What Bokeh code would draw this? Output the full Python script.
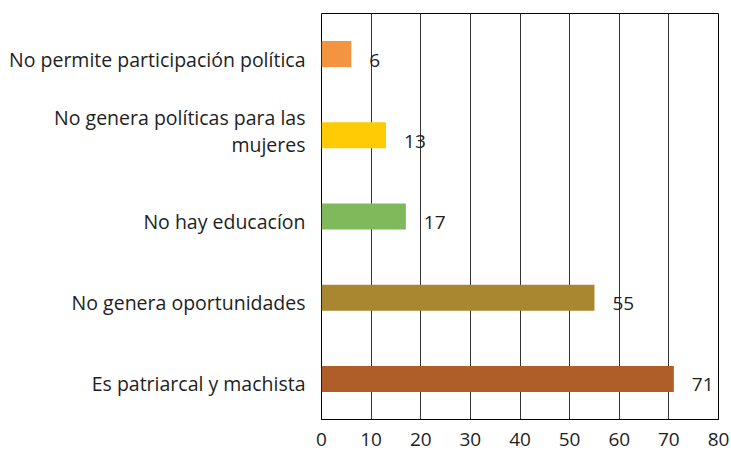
from bokeh.plotting import figure
from bokeh.models import FactorRange, Range1d, FixedTicker, ColumnDataSource
from bokeh.embed import file_html
from bokeh.resources import INLINE
from bokeh.core.properties import value

categories = [
    "No permite participación política",
    "No genera políticas para las\nmujeres",
    "No hay educacíon",
    "No genera oportunidades",
    "Es patriarcal y machista",
]
keys = ["c1", "c2", "c3", "c4", "c5"]
values = [6, 13, 17, 55, 71]
colors = ["#F39440", "#FFCB05", "#80B95C", "#A88730", "#AF5E2A"]
x_ticks = [0, 10, 20, 30, 40, 50, 60, 70, 80]

FONT = "Open Sans"
TXT = "#1e1e1e"

n_lines = [c.count("\n") + 1 for c in categories]
src = ColumnDataSource(dict(key=keys, cat=categories, val=values, col=colors,
                            lab=[str(v) for v in values], zero=[0] * len(values),
                            yoff=[5 if k == 1 else -4 for k in n_lines]))

p = figure(width=731, height=451, output_backend="svg", toolbar_location=None,
           y_range=FactorRange(factors=keys[::-1]), x_range=Range1d(0, 80),
           min_border_left=321, min_border_right=13, min_border_top=13, min_border_bottom=32)

p.hbar(y="key", right="val", left=0, height=0.32, color="col", line_color=None, source=src)

p.text(x="val", y="key", text="lab", source=src, x_offset=18, y_offset=6,
       text_align="left", text_baseline="middle", text_font=value(FONT),
       text_font_size="19px", text_color=TXT)

p.text(x="zero", y="key", text="cat", source=src, x_offset=-16, y_offset="yoff",
       text_align="right", text_baseline="middle", text_font=value(FONT),
       text_font_size="19.5px", text_color=TXT, text_line_height=1.0, level="annotation")

p.outline_line_color = "black"
p.outline_line_width = 1
p.ygrid.visible = False
p.xgrid.ticker = FixedTicker(ticks=x_ticks)
p.xgrid.grid_line_color = "#333333"
p.xgrid.grid_line_width = 1
p.xgrid.grid_line_alpha = 1

p.xaxis.ticker = FixedTicker(ticks=x_ticks)
p.xaxis.major_tick_out = 0
p.xaxis.major_tick_in = 0
p.xaxis.minor_tick_out = 0
p.xaxis.minor_tick_in = 0
p.xaxis.axis_line_color = "black"
p.xaxis.major_label_standoff = 13
p.xaxis.major_label_text_font = FONT
p.xaxis.major_label_text_font_size = "19px"
p.xaxis.major_label_text_color = TXT

p.yaxis.visible = False

open("out.html", "w").write(file_html(p, INLINE))
